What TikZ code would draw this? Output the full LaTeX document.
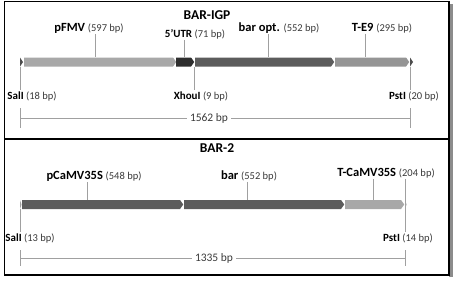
\documentclass[tikz,border=0pt]{standalone}
\usepackage{fontspec}
\setmainfont{Carlito}
\usepackage{tikz}
\usetikzlibrary{shapes.symbols,positioning,calc}
\usepackage{xcolor}
\definecolor{segLight}{HTML}{A8A8A8}
\definecolor{segMid}{HTML}{959595}
\definecolor{segDark}{HTML}{5C5C5C}
\definecolor{segBlack}{HTML}{2E2E2E}
\definecolor{leadGray}{HTML}{A0A0A0}
\definecolor{bpGray}{HTML}{3A3A3A}
\newcommand{\bplen}[1]{{\fontsize{10.5}{12}\selectfont\mdseries\color{bpGray}#1}}
\tikzset{
seg/.style={signal, signal to=east, signal pointer angle=110, draw=none, minimum height=9pt, inner sep=0pt, anchor=west},
site/.style={fill=black!70},
lab/.style={anchor=base, inner sep=1pt, font=\fontsize{12.5}{14}\selectfont\bfseries},
sitelab/.style={anchor=base, inner sep=1pt, font=\fontsize{11}{13}\selectfont\bfseries},
title/.style={inner sep=1pt, font=\fontsize{13.5}{15}\selectfont\bfseries},
lead/.style={draw=leadGray, line width=0.9pt},
ruler/.style={draw=leadGray, line width=0.9pt},
lenlab/.style={fill=white, inner sep=3pt, font=\fontsize{11.5}{13}\selectfont, text=bpGray},
frame/.style={draw=black, line width=1.8pt}
}

\begin{document}
\begin{tikzpicture}[x=1pt,y=-1pt]
\useasboundingbox (0,0) rectangle (462,281);
% frame with shadow
\fill[black!45] (449,4) rectangle (452.5,276.5);
\draw[frame, fill=white] (4.5,1.5) rectangle (449,275);
\draw[frame] (4.5,139) -- (449,139);

% ---------- BAR-IGP ----------
\node[title] (igp) at (207,15) {BAR-IGP};
\foreach \name/\xa/\xb/\col in {pfmv/24/176/segLight, utr/176/194/segBlack, baro/195/334/segDark, te9/335/409/segMid}{
\node[seg, fill=\col, minimum width={(\xb-\xa)*1pt}] (\name) at (\xa,62) {};
}
\coordinate (salA) at (20,62);
\coordinate (pstA) at (410,62);
\fill[site] (salA) ++(0,-4.5) -- ++(3,4.5) -- ++(-3,4.5) -- cycle;
\fill[site] (pstA) ++(0,-4.5) -- ++(3,4.5) -- ++(-3,4.5) -- cycle;
\coordinate (xho) at (194,62);

\node[lab] (pfmvLab) at (89,31) {pFMV \bplen{(597 bp)}};
\node[sitelab] (utrLab) at (195,37) {5'UTR \bplen{(71 bp)}};
\node[lab] (baroLab) at (279,31) {bar opt. \bplen{(552 bp)}};
\node[lab] (te9Lab) at (382,31) {T-E9 \bplen{(295 bp)}};
\node[sitelab] (salALab) at (32,99) {SalI \bplen{(18 bp)}};
\node[sitelab] (xhoLab) at (201,99) {XhouI \bplen{(9 bp)}};
\node[sitelab] (pstALab) at (414,99) {PstI \bplen{(20 bp)}};

\coordinate (pfmvX) at (95,0);
\coordinate (utrX) at (184,0);
\coordinate (baroX) at (268,0);
\coordinate (te9X) at (365,0);
\draw[lead] (pfmvX |- pfmvLab.south) -- (pfmvX |- pfmv.north);
\draw[lead] (utrX |- utrLab.south) -- (utrX |- utr.north);
\draw[lead] (baroX |- baroLab.south) -- (baroX |- baro.north);
\draw[lead] (te9X |- te9Lab.south) -- (te9X |- te9.north);
\draw[lead] ($(salA)+(0,4.5)$) -- (salA |- salALab.north);
\draw[lead] ($(xho)+(0,5)$) -- (xho |- xhoLab.north);
\draw[lead] ($(pstA)+(0,5)$) -- (pstA |- pstALab.north);

% length of the cassette
\node[lenlab] (lenA) at (209,118) {1562 bp};
\coordinate (rulAl) at (20,118);
\coordinate (rulAr) at (410,118);
\draw[ruler] (rulAl) -- (lenA.west);
\draw[ruler] (lenA.east) -- (rulAr);
\draw[ruler] ($(rulAl)+(0,-10)$) -- ($(rulAl)+(0,10)$);
\draw[ruler] ($(rulAr)+(0,-10)$) -- ($(rulAr)+(0,10)$);

% ---------- BAR-2 ----------
\node[title] (bartwo) at (217,148) {BAR-2};
\foreach \name/\xa/\xb/\col in {cam/22/183/segDark, bar/184/344/segDark, tcam/345/404/segLight}{
\node[seg, fill=\col, minimum width={(\xb-\xa)*1pt}] (\name) at (\xa,204.5) {};
}
\coordinate (salB) at (20,204.5);
\coordinate (pstB) at (405,204.5);
\fill[leadGray] (salB) ++(0,-4.5) -- ++(1.5,4.5) -- ++(-1.5,4.5) -- cycle;
\fill[leadGray] (pstB) ++(0,-4.5) -- ++(1.5,4.5) -- ++(-1.5,4.5) -- cycle;

\node[lab] (camLab) at (94,179) {pCaMV35S \bplen{(548 bp)}};
\node[lab] (barLab) at (249,179) {bar \bplen{(552 bp)}};
\node[lab] (tcamLab) at (386,176) {T-CaMV35S \bplen{(204 bp)}};
\node[sitelab] (salBLab) at (30,241) {SalI \bplen{(13 bp)}};
\node[sitelab] (pstBLab) at (408,241) {PstI \bplen{(14 bp)}};

\coordinate (camX) at (87,0);
\coordinate (barX) at (247,0);
\coordinate (tcamX) at (373,0);
\draw[lead] (camX |- camLab.south) -- (camX |- cam.north);
\draw[lead] (barX |- barLab.south) -- (barX |- bar.north);
\draw[lead] (tcamX |- tcamLab.south) -- (tcamX |- tcam.north);
\draw[lead] ($(salB)+(0,4.5)$) -- (salB |- salBLab.north);
\draw[lead] (pstB |- tcamLab.south) -- (pstB |- pstBLab.north);

% length of the cassette
\node[lenlab] (lenB) at (214,258) {1335 bp};
\coordinate (rulBl) at (20,258);
\coordinate (rulBr) at (405,258);
\draw[ruler] (rulBl) -- (lenB.west);
\draw[ruler] (lenB.east) -- (rulBr);
\draw[ruler] ($(rulBl)+(0,-8)$) -- ($(rulBl)+(0,8)$);
\draw[ruler] ($(rulBr)+(0,-8)$) -- ($(rulBr)+(0,8)$);
\end{tikzpicture}
\end{document}
